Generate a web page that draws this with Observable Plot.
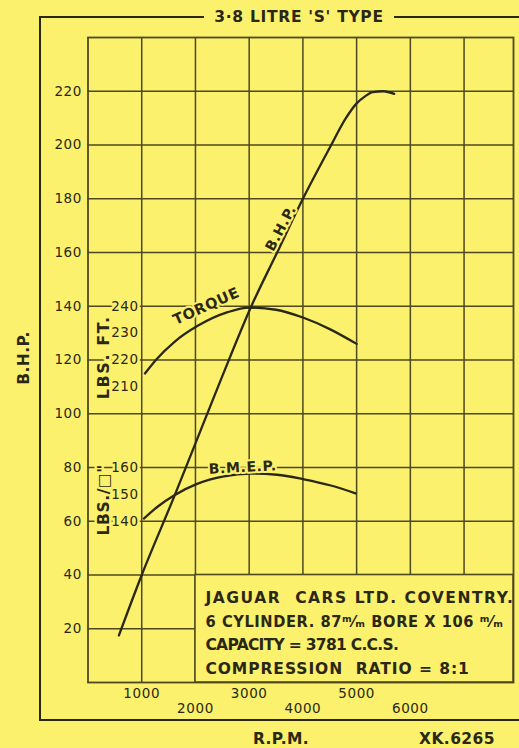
<!DOCTYPE html>
<html>
<head>
<meta charset="utf-8">
<script src="https://cdn.jsdelivr.net/npm/d3@7"></script>
<script src="https://cdn.jsdelivr.net/npm/@observablehq/plot@0.6"></script>
<style>
  html, body { margin: 0; padding: 0; background: #fbf16d; }
  #wrap { position: relative; width: 519px; height: 748px; overflow: hidden; background: #fbf16d; color: #2a2814; font-family: "DejaVu Sans", sans-serif; }
  #outer { position: absolute; left: 39px; top: 16px; width: 482px; height: 705px; box-sizing: border-box;
           border-top: 2px solid #2a2814; border-left: 2px solid #2a2814; border-bottom: 2px solid #2a2814; }
  #chart { position: absolute; left: 0; top: 0; }
  .lbl { position: absolute; font-weight: bold; white-space: nowrap; line-height: 1; }
  #title { top: 10px; left: 204px; width: 190px; text-align: center; background: #fbf16d; font-size: 15.5px; letter-spacing: 0.7px; }
  #ylab { left: 25px; top: 358px; transform: translate(-50%, -50%) rotate(-90deg); font-size: 15.5px; letter-spacing: 0.4px; }
  #xlab { left: 281px; top: 740px; transform: translate(-50%, -50%); font-size: 15.5px; letter-spacing: 0.4px; }
  #ref  { left: 457px; top: 740px; transform: translate(-50%, -50%); font-size: 15.5px; letter-spacing: 0.4px; }
</style>
</head>
<body>
<div id="wrap">
  <div id="outer"></div>
  <div id="chart"></div>
  <div class="lbl" id="title">3·8 LITRE 'S' TYPE</div>
  <div class="lbl" id="ylab">B.H.P.</div>
  <div class="lbl" id="xlab">R.P.M.</div>
  <div class="lbl" id="ref">XK.6265</div>
</div>
<script>
// ---- data ----
const bhpRpm = [575, 1000, 1600, 2000, 2500, 3040, 3520, 4000, 4500, 4800, 5000, 5150, 5300, 5500, 5700];
const bhpVal = [17.5, 40, 69, 89, 114, 140, 160, 180, 199, 210, 215.5, 218, 219.7, 220, 219];

const torqueRpm = [1060, 1280, 1600, 2050, 2600, 3000, 3500, 4000, 4500, 5000];
const torqueVal = [215, 220.4, 226.6, 232.8, 237.8, 239.5, 238.7, 235.8, 231.5, 226];

const bmepRpm = [1040, 1300, 1600, 2030, 2530, 3030, 3520, 4020, 4520, 4980];
const bmepVal = [141, 145.5, 149.6, 153.9, 156.7, 157.7, 157.3, 155.6, 153.3, 150.4];

const rpmTicksRow1 = [1000, 3000, 5000];
const rpmTicksRow2 = [2000, 4000, 6000];
const bhpTicks = [20, 40, 60, 80, 100, 120, 140, 160, 180, 200, 220];
const torqueTicks = [210, 220, 230, 240];   // lbs. ft.
const bmepTicks = [140, 150, 160];          // lbs./sq.in.
const torqueOffset = 100;                   // 240 lbs.ft sits on the 140 b.h.p. line
const bmepOffset = 80;                      // 160 lbs./sq.in sits on the 80 b.h.p. line

const boxLines = [
  "JAGUAR  CARS LTD. COVENTRY.",
  "6 CYLINDER. 87ᵐ⁄ₘ BORE X 106 ᵐ⁄ₘ",
  "CAPACITY = 3781 C.C.S.",
  "COMPRESSION  RATIO = 8:1"
];

// ---- styling ----
const bg = "#fbf16d";
const ink = "#2a2814";
const gridInk = "#4d4820";
const font = "DejaVu Sans";
const boxLineWidths = [308, 298, 194, 264];

const bhp = bhpRpm.map((r, i) => ({rpm: r, v: bhpVal[i]}));
const torque = torqueRpm.map((r, i) => ({rpm: r, v: torqueVal[i] - torqueOffset}));
const bmep = bmepRpm.map((r, i) => ({rpm: r, v: bmepVal[i] - bmepOffset}));

const chart = Plot.plot({
  width: 519,
  height: 748,
  marginLeft: 87.5,
  marginRight: 6,
  marginTop: 37,
  marginBottom: 66,
  x: {domain: [0, 7920], label: null},
  y: {domain: [0, 240], label: null},
  style: {background: "transparent", color: ink, fontFamily: font, fontSize: "13px", letterSpacing: "0.6px"},
  marks: [
    Plot.gridX(d3.range(1000, 8000, 1000), {stroke: gridInk, strokeOpacity: 1, strokeWidth: 1.5}),
    Plot.gridY(d3.range(20, 240, 20), {stroke: gridInk, strokeOpacity: 1, strokeWidth: 1.5}),
    Plot.frame({stroke: gridInk, strokeWidth: 1.8}),
    // specification box in the lower right
    Plot.rect([0], {x1: () => 2000, x2: () => 7920, y1: () => 0, y2: () => 40, fill: bg, stroke: gridInk, strokeWidth: 1.6}),
    Plot.text([boxLines.join("\n")], {
      x: () => 2000, y: () => 40, dx: 10, dy: 11, textAnchor: "start", lineAnchor: "top",
      lineHeight: 1.53, fontSize: 15.5, fontWeight: "bold", fill: ink, className: "spec"
    }),
    // axes
    Plot.axisY(bhpTicks, {tickSize: 0, tickPadding: 6, fontSize: 13.5}),
    Plot.axisX(rpmTicksRow1, {tickSize: 0, tickPadding: 6, fontSize: 13.5, tickFormat: d => String(d)}),
    Plot.axisX(rpmTicksRow2, {tickSize: 0, tickPadding: 21, fontSize: 13.5, tickFormat: d => String(d)}),
    // secondary scales written on the 1000 r.p.m. line
    Plot.text(torqueTicks, {x: () => 1000, y: d => d - torqueOffset, text: d => String(d), textAnchor: "end", dx: -3,
      fontSize: 13.5, fill: ink, stroke: bg, strokeWidth: 5}),
    Plot.text(bmepTicks, {x: () => 1000, y: d => d - bmepOffset, text: d => String(d), textAnchor: "end", dx: -3,
      fontSize: 13.5, fill: ink, stroke: bg, strokeWidth: 5}),
    Plot.text(["LBS. FT."], {x: () => 1000, y: () => 121, dx: -38, rotate: -90, fontSize: 16, fontWeight: "bold",
      fill: ink, stroke: bg, strokeWidth: 5, className: "wide"}),
    Plot.text(['LBS./□"'], {x: () => 1000, y: () => 68, dx: -38, rotate: -90, fontSize: 15.5, fontWeight: "bold",
      fill: ink, stroke: bg, strokeWidth: 5}),
    // curves
    Plot.line(bhp, {x: "rpm", y: "v", curve: "monotone-x", stroke: ink, strokeWidth: 2.3}),
    Plot.line(torque, {x: "rpm", y: "v", curve: "monotone-x", stroke: ink, strokeWidth: 2.3}),
    Plot.line(bmep, {x: "rpm", y: "v", curve: "monotone-x", stroke: ink, strokeWidth: 2.3}),
    // curve labels
    Plot.text(["TORQUE"], {x: () => 2200, y: () => 140, rotate: -24, fontSize: 14.5, fontWeight: "bold",
      fill: ink, stroke: bg, strokeWidth: 4}),
    Plot.text(["B.H.P."], {x: () => 3590, y: () => 169, rotate: -62, fontSize: 14, fontWeight: "bold",
      fill: ink, stroke: bg, strokeWidth: 4}),
    Plot.text(["B.M.E.P."], {x: () => 2880, y: () => 80, rotate: -3, fontSize: 14, fontWeight: "bold",
      fill: ink, stroke: bg, strokeWidth: 4})
  ]
});
document.getElementById("chart").appendChild(chart);

// stretch each line of the specification box to the width it has in the original
chart.querySelectorAll(".spec tspan").forEach((ts, i) => {
  if (boxLineWidths[i]) {
    ts.setAttribute("textLength", boxLineWidths[i]);
    ts.setAttribute("lengthAdjust", i === 1 ? "spacingAndGlyphs" : "spacing");
  }
});
chart.querySelectorAll(".wide text").forEach(t => t.style.letterSpacing = "1.6px");
</script>
</body>
</html>
